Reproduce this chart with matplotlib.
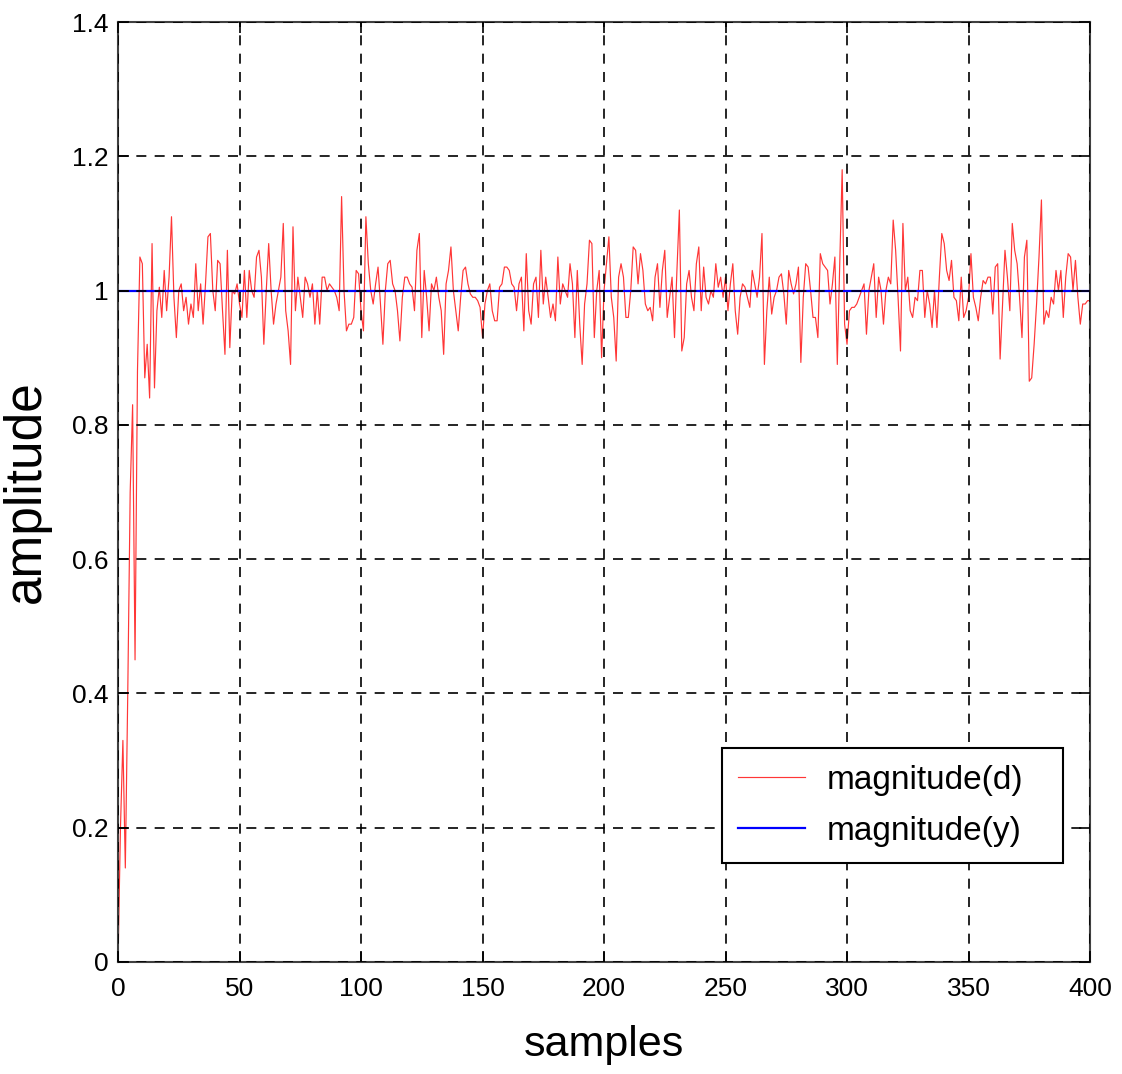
import numpy as np
import matplotlib
matplotlib.use("Agg")
import matplotlib.pyplot as plt

plt.rcParams['font.family'] = ['Liberation Sans', 'DejaVu Sans']

# ---- data ----
samples = np.arange(0, 401)
magnitude_d = [
    0.0, 0.2, 0.33, 0.14, 0.40, 0.70, 0.83, 0.45, 0.88, 1.05,
    1.04, 0.87, 0.92, 0.84, 1.07, 0.855, 0.97, 1.005, 0.96, 1.03,
    0.97, 1.02, 1.11, 0.99, 0.93, 1.00, 1.01, 0.97, 0.99, 0.95,
    0.98, 0.96, 1.04, 0.97, 1.01, 0.95, 1.01, 1.08, 1.085, 1.00,
    0.97, 1.045, 1.04, 0.97, 0.905, 1.06, 0.915, 1.0, 0.995, 1.01,
    0.98, 0.96, 1.03, 0.96, 1.03, 1.00, 0.99, 1.05, 1.06, 1.02,
    0.92, 1.0, 1.07, 1.0, 0.95, 0.98, 1.0, 1.02, 1.10, 0.97,
    0.94, 0.89, 1.095, 0.97, 1.02, 0.99, 0.96, 1.02, 1.01, 0.99,
    1.01, 0.95, 1.0, 0.95, 1.02, 1.02, 1.0, 1.01, 1.005, 1.0,
    0.99, 0.97, 1.14, 1.0, 0.94, 0.95, 0.95, 0.96, 1.03, 1.025,
    0.97, 0.94, 1.11, 1.04, 1.0, 0.98, 1.01, 1.035, 0.98, 0.92,
    1.0, 1.04, 1.045, 1.01, 1.0, 0.97, 0.925, 0.99, 1.02, 1.02,
    1.01, 1.005, 0.97, 1.06, 1.085, 0.93, 1.03, 0.99, 0.94, 1.01,
    1.0, 1.02, 0.99, 0.97, 0.905, 1.01, 1.03, 1.065, 1.0, 0.97,
    0.94, 0.99, 1.03, 1.035, 1.01, 0.995, 0.99, 0.99, 0.985, 0.975,
    0.93, 0.98, 1.0, 1.01, 0.97, 0.955, 0.955, 1.005, 1.01, 1.035,
    1.035, 1.03, 1.01, 1.005, 0.97, 1.01, 1.02, 0.94, 1.055, 0.97,
    0.95, 1.01, 1.02, 0.96, 1.06, 0.98, 1.02, 0.99, 0.96, 0.98,
    0.955, 1.05, 0.98, 1.01, 1.0, 0.99, 1.04, 1.01, 0.93, 1.03,
    0.95, 0.89, 0.98, 1.01, 1.075, 1.07, 0.93, 1.0, 1.03, 0.90,
    1.0, 1.04, 1.08, 0.99, 0.96, 0.895, 1.02, 1.04, 1.02, 0.96,
    0.96, 1.0, 1.065, 1.06, 1.01, 1.055, 1.03, 0.98, 0.97, 0.975,
    0.955, 1.02, 1.04, 0.975, 1.03, 1.06, 0.96, 0.99, 1.02, 0.93,
    1.03, 1.12, 0.91, 0.93, 1.01, 1.03, 0.99, 0.97, 1.04, 1.065,
    0.97, 1.035, 0.99, 0.98, 1.0, 0.99, 1.04, 1.005, 1.02, 0.99,
    1.02, 0.97, 1.01, 1.04, 0.97, 0.935, 0.99, 1.01, 1.005, 0.99,
    0.975, 1.03, 1.01, 0.99, 1.02, 1.085, 0.89, 0.97, 1.02, 0.965,
    0.99, 1.0, 1.02, 1.025, 0.995, 0.95, 1.03, 1.01, 0.995, 1.01,
    1.035, 0.893, 0.99, 1.04, 1.035, 1.0, 0.96, 0.96, 0.93, 1.055,
    1.04, 1.035, 1.03, 0.98, 1.01, 1.05, 0.89, 1.04, 1.18, 0.95,
    0.92, 0.97, 0.975, 0.975, 0.98, 0.99, 1.0, 1.01, 0.935, 1.0,
    1.02, 1.04, 0.96, 1.02, 1.0, 0.95, 1.0, 1.02, 1.01, 1.105,
    1.06, 0.99, 0.91, 1.10, 1.0, 1.02, 0.97, 0.96, 0.99, 0.985,
    1.03, 1.03, 0.96, 1.0, 0.98, 0.945, 1.0, 0.945, 1.02, 1.085,
    1.07, 1.03, 1.015, 1.045, 0.99, 0.985, 0.955, 1.02, 0.96, 0.97,
    0.99, 1.055, 0.99, 0.975, 0.955, 0.99, 1.015, 1.01, 1.02, 1.02,
    0.965, 1.035, 1.04, 0.898, 0.98, 1.06, 1.02, 0.97, 1.10, 1.06,
    1.04, 0.99, 0.93, 1.05, 1.075, 0.865, 0.87, 0.92, 0.98, 1.05,
    1.135, 0.95, 0.97, 0.96, 0.99, 0.98, 1.03, 1.0, 1.03, 0.96,
    1.02, 1.055, 1.05, 1.0, 1.045, 0.99, 0.95, 0.98, 0.98, 0.985,
    0.985,
]
y_samples = [0, 400]
magnitude_y = [1.0, 1.0]

x_ticks = [0, 50, 100, 150, 200, 250, 300, 350, 400]
x_ticklabels = ['0', '50', '100', '150', '200', '250', '300', '350', '400']
y_ticks = [0, 0.2, 0.4, 0.6, 0.8, 1.0, 1.2, 1.4]
y_ticklabels = ['0', '0.2', '0.4', '0.6', '0.8', '1', '1.2', '1.4']

# ---- figure ----
fig = plt.figure(figsize=(11.22, 10.74), dpi=100)
ax = fig.add_axes([0.1052, 0.1043, 0.8663, 0.8752])

ax.plot(samples, magnitude_d, color='#ff2020', lw=0.85, alpha=0.9,
        label='magnitude(d)')
ax.plot(y_samples, magnitude_y, color='#0000ff', lw=1.6, label='magnitude(y)')

ax.set_xlim(0, 400)
ax.set_ylim(0, 1.4)
ax.set_xticks(x_ticks)
ax.set_xticklabels(x_ticklabels)
ax.set_yticks(y_ticks)
ax.set_yticklabels(y_ticklabels)

ax.set_axisbelow(False)
ax.grid(True, color='black', linestyle=(0, (6, 5)), linewidth=1.2)

ax.tick_params(direction='in', length=8, width=1.2, top=True, right=True,
               labelsize=19, colors='black')
ax.tick_params(axis='x', pad=11)
ax.tick_params(axis='y', pad=7)
for s in ax.spines.values():
    s.set_color('#404040')
    s.set_linewidth(1.5)

ax.set_xlabel('samples', fontsize=31, labelpad=17)
ax.set_ylabel('amplitude', fontsize=37)
ax.yaxis.set_label_coords(-0.069, 0.5)

leg = ax.legend(loc='lower left', bbox_to_anchor=(0.621, 0.105, 0.351, 0.1205),
                mode='expand', borderaxespad=0, fontsize=24, frameon=True,
                fancybox=False, edgecolor='black', framealpha=1,
                handlelength=2.0, handletextpad=0.65, borderpad=0.5,
                labelspacing=0.6)
leg.get_frame().set_linewidth(1.5)

fig.savefig('out.png', dpi=100)
